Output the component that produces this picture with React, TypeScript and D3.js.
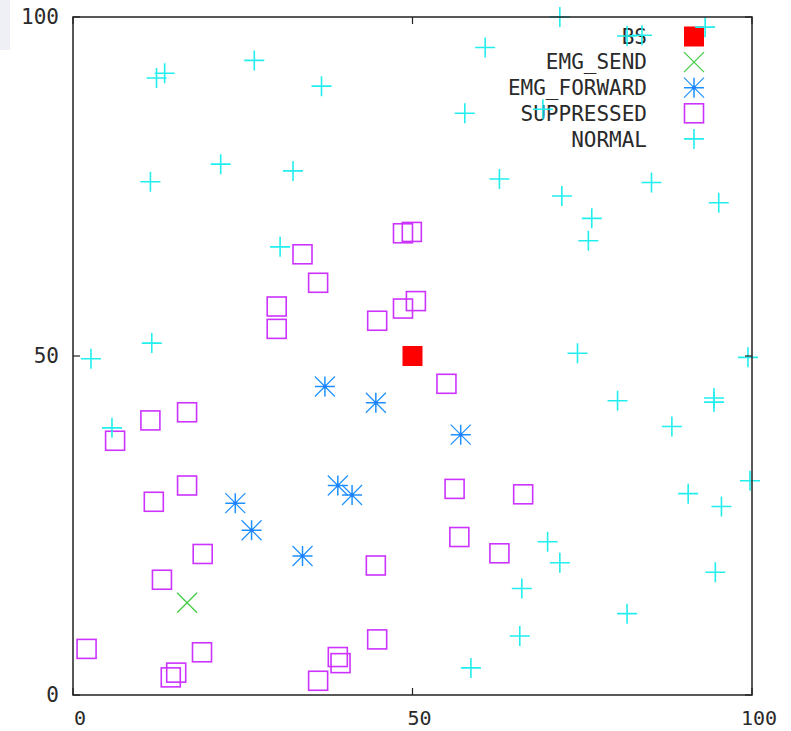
import React from 'react';
import * as d3 from 'd3';

// series, [x, y]
const bsPoints = [[50, 50]];
const emgSendPoints = [[16.8, 13.6]];
const emgForwardPoints = [
  [37.1, 45.5], [44.6, 43.1], [57.1, 38.4], [39.0, 30.9],
  [41.1, 29.5], [23.9, 28.3], [26.3, 24.3], [33.8, 20.5],
];
const suppressedPoints = [
  [33.8, 65.0], [36.1, 60.8], [48.6, 68.1], [49.9, 68.3], [30.0, 57.3],
  [30.0, 54.0], [50.5, 58.1], [48.6, 57.0], [44.8, 55.2], [55.0, 45.9],
  [16.8, 41.7], [11.4, 40.5], [6.2, 37.5], [16.8, 30.9], [11.9, 28.5],
  [56.2, 30.4], [66.3, 29.6], [56.9, 23.3], [62.8, 20.9], [19.1, 20.8],
  [13.1, 17.0], [44.6, 19.1], [2.0, 6.8], [19.0, 6.3], [15.2, 3.3],
  [14.4, 2.6], [36.1, 2.1], [39.0, 5.6], [39.4, 4.7], [44.8, 8.2],
];
const normalPoints = [
  [2.65, 49.6], [5.74, 39.4], [12.3, 91.0], [13.5, 91.7], [26.7, 93.6],
  [36.6, 89.8], [21.75, 78.3], [32.4, 77.3], [11.4, 75.7], [30.5, 66.1],
  [11.6, 51.9], [60.7, 95.5], [71.7, 100], [81.6, 97.2], [83.8, 97.3],
  [93.1, 98.5], [69.2, 86.4], [57.7, 85.8], [62.8, 76.1], [72.0, 73.6],
  [85.2, 75.6], [95.1, 72.6], [76.4, 70.3], [75.9, 67.0], [74.3, 50.4],
  [99.4, 49.8], [80.2, 43.4], [94.4, 43.8], [94.4, 43.2], [88.2, 39.6],
  [90.6, 29.7], [95.5, 27.8], [99.7, 31.6], [69.9, 22.6], [71.7, 19.5],
  [66.1, 15.7], [94.6, 18.1], [81.6, 12.0], [65.8, 8.7], [58.6, 4.0],
];
const xTicks = [0, 50, 100];
const yTicks = [0, 50, 100];
const legendLabels = ['BS', 'EMG_SEND', 'EMG_FORWARD', 'SUPPRESSED', 'NORMAL'];

const FONT = '"DejaVu Sans Mono", monospace';
const TXT = '#2a2a2a';

const x = d3.scaleLinear().domain([0, 100]).range([73, 752]);
const y = d3.scaleLinear().domain([0, 100]).range([695, 17]);

const H = 10;

const Marker = ({ kind, cx, cy }) => {
  if (kind === 'bs') {
    return <rect x={cx - H} y={cy - H} width={2 * H} height={2 * H} fill="#ff0000" />;
  }
  if (kind === 'send') {
    return (
      <path d={`M${cx - H},${cy - H}L${cx + H},${cy + H}M${cx - H},${cy + H}L${cx + H},${cy - H}`}
        stroke="#44cc44" strokeWidth={1.3} fill="none" />
    );
  }
  if (kind === 'fwd') {
    return (
      <g stroke="#1e90ff" strokeWidth={1.5} fill="none">
        <path d={`M${cx - H},${cy}L${cx + H},${cy}M${cx},${cy - H}L${cx},${cy + H}`} />
        <path d={`M${cx - H},${cy - H}L${cx + H},${cy + H}M${cx - H},${cy + H}L${cx + H},${cy - H}`} strokeWidth={1.2} />
        <circle cx={cx} cy={cy} r={2} fill="#1e80ff" stroke="none" />
      </g>
    );
  }
  if (kind === 'sup') {
    return <rect x={cx - H + 0.5} y={cy - H + 0.5} width={2 * H - 1} height={2 * H - 1}
      stroke="#cc33ff" strokeWidth={1.6} fill="none" />;
  }
  return (
    <path d={`M${cx - H},${cy}L${cx + H},${cy}M${cx},${cy - H}L${cx},${cy + H}`}
      stroke="#22eeee" strokeWidth={1.6} fill="none" />
  );
};

const series = [
  { kind: 'bs', pts: bsPoints },
  { kind: 'send', pts: emgSendPoints },
  { kind: 'fwd', pts: emgForwardPoints },
  { kind: 'sup', pts: suppressedPoints },
  { kind: 'normal', pts: normalPoints },
];

const App = () => {
  const [x0, x1] = x.range();
  const [y0, y1] = y.range();
  return (
    <svg width={791} height={731} style={{ position: 'absolute', left: 0, top: 0, background: '#fff' }}>
      <rect x={0} y={0} width={10} height={50} fill="#eff0f5" />

      {/* legend text first, points go over it */}
      {legendLabels.map((lab, i) => (
        <text key={lab} x={647} y={43.5 + i * 25.8} textAnchor="end" fontFamily={FONT} fontSize={21} fill={TXT}>{lab}</text>
      ))}

      {series.map((s, i) => (
        <g key={s.kind}>
          <Marker kind={s.kind} cx={694} cy={36.5 + i * 25.6} />
          {s.pts.map((p, j) => (
            <Marker key={j} kind={s.kind} cx={x(p[0])} cy={y(p[1])} />
          ))}
        </g>
      ))}

      {/* frame + ticks */}
      <rect x={x0} y={y1} width={x1 - x0} height={y0 - y1} fill="none" stroke="#222" strokeWidth={1.5} />
      {xTicks.map(t => (
        <g key={'x' + t}>
          <line x1={x(t)} x2={x(t)} y1={y0} y2={y0 - 7} stroke="#222" strokeWidth={1.2} />
          <line x1={x(t)} x2={x(t)} y1={y1} y2={y1 + 7} stroke="#222" strokeWidth={1.2} />
          <text x={x(t) + 7} y={725} textAnchor="middle" fontFamily={FONT} fontSize={20} fill={TXT}>{t}</text>
        </g>
      ))}
      {yTicks.map(t => (
        <g key={'y' + t}>
          <line x1={x0} x2={x0 + 7} y1={y(t)} y2={y(t)} stroke="#222" strokeWidth={1.2} />
          <line x1={x1} x2={x1 - 7} y1={y(t)} y2={y(t)} stroke="#222" strokeWidth={1.2} />
          <text x={59} y={y(t) + 7} textAnchor="end" fontFamily={FONT} fontSize={21} fill={TXT}>{t}</text>
        </g>
      ))}
    </svg>
  );
};

export default App;
